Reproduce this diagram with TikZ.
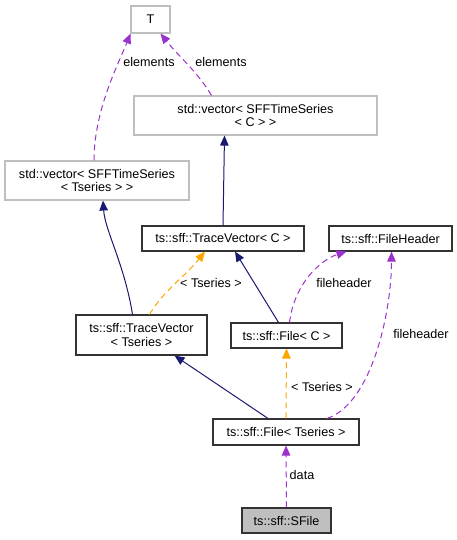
\documentclass[tikz,border=0pt]{standalone}
\usepackage{fontspec}
\setmainfont{Liberation Sans}
\usetikzlibrary{arrows.meta}
\definecolor{navyc}{HTML}{191970}
\definecolor{purplec}{HTML}{9A32CD}
\definecolor{orangec}{HTML}{FFA500}
\definecolor{grayc}{HTML}{BFBFBF}
\tikzset{
  box/.style={draw=black!80, line width=1.1pt, inner sep=0pt, align=center, font=\fontsize{12.6}{13.5}\selectfont, fill=white},
  graybox/.style={box, draw=grayc},
  inh/.style={draw=navyc, line width=1pt, -{Triangle[length=10pt,width=8.5pt]}},
  usage/.style={draw=purplec, line width=1pt, dash pattern=on 6pt off 4pt, -{Triangle[length=10pt,width=8.5pt,fill=purplec]}},
  tmpl/.style={draw=orangec, line width=1pt, dash pattern=on 6pt off 4pt, -{Triangle[length=10pt,width=8.5pt,fill=orangec]}},
  lbl/.style={font=\fontsize{12.6}{13.5}\selectfont, inner sep=0pt}
}
\begin{document}
\begin{tikzpicture}[x=1pt,y=-1pt]
\useasboundingbox (0,0) rectangle (457,540);
\node[graybox, minimum width=39pt, minimum height=27pt] (T) at (150.5,19.5) {T};
\node[graybox, minimum width=243pt, minimum height=39pt] (vecC) at (255.5,115.5) {std::vector\textless{} SFFTimeSeries\\\textless{} C \textgreater{} \textgreater{}};
\node[graybox, minimum width=184pt, minimum height=39pt] (vecT) at (97,180.5) {std::vector\textless{} SFFTimeSeries\\\textless{} Tseries \textgreater{} \textgreater{}};
\node[box, minimum width=162pt, minimum height=25pt] (tvC) at (223,238.5) {ts::sff::TraceVector\textless{} C \textgreater{}};
\node[box, minimum width=123pt, minimum height=25pt] (fh) at (390.5,238.5) {ts::sff::FileHeader};
\node[box, minimum width=131pt, minimum height=40pt] (tvT) at (141.5,335) {ts::sff::TraceVector\\\textless{} Tseries \textgreater{}};
\node[box, minimum width=111pt, minimum height=25pt] (fC) at (286.5,335.5) {ts::sff::File\textless{} C \textgreater{}};
\node[box, minimum width=146pt, minimum height=26pt] (fT) at (286,432) {ts::sff::File\textless{} Tseries \textgreater{}};
\node[box, fill=grayc, minimum width=89pt, minimum height=25pt] (sf) at (286.5,520.5) {ts::sff::SFile};

% elements
\draw[usage] ([xshift=-3pt]vecT.north) .. controls +(0,-50) and +(-12,30) .. ([xshift=-20pt]T.south);
\node[lbl] (l1) at (149,62) {elements};
\draw[usage] ([xshift=-44pt]vecC.north) .. controls +(-15,-25) and +(20,25) .. ([xshift=10pt]T.south);
\node[lbl] (l2) at (221,62) {elements};
% inheritance
\draw[inh] ([xshift=-9pt]tvT.north) .. controls +(-8,-50) and +(2,30) .. ([xshift=6pt]vecT.south);
\draw[inh] (tvC.north) -- ([xshift=-31pt]vecC.south);
\draw[inh] ([xshift=-8pt]fC.north) -- ([xshift=12pt]tvC.south);
\draw[inh] ([xshift=-18pt]fT.north) -- ([xshift=33pt]tvT.south);
% template
\draw[tmpl] ([xshift=8pt]tvT.north) .. controls +(15,-25) and +(-20,25) .. ([xshift=-18pt]tvC.south);
\node[lbl] (l3) at (211,283) {\textless{} Tseries \textgreater{}};
\draw[tmpl] (fT.north) -- (fC.south);
\node[lbl] (l4) at (322,387) {\textless{} Tseries \textgreater{}};
% fileheader
\draw[usage] ([xshift=3pt]fC.north) .. controls +(5,-40) and +(-25,8) .. ([xshift=-44pt]fh.south);
\node[lbl] (l5) at (344,283) {fileheader};
\draw[usage] ([xshift=41pt]fT.north) .. controls +(45,-15) and +(0,60) .. ([xshift=1pt]fh.south);
\node[lbl] (l6) at (421,334) {fileheader};
% data
\draw[usage] (sf.north) -- (fT.south);
\node[lbl] (l7) at (302,475) {data};
\end{tikzpicture}
\end{document}
